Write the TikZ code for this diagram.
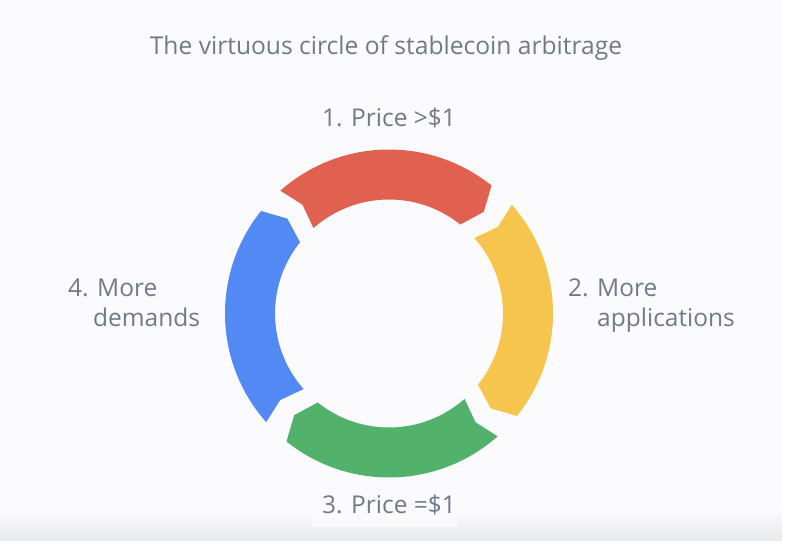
\documentclass[tikz,border=0pt]{standalone}
\usepackage{fontspec}
\setmainfont{Open Sans}
\usetikzlibrary{calc}
\definecolor{txt}{RGB}{112,122,138}
\definecolor{panel}{RGB}{251,251,253}
\definecolor{segred}{RGB}{224,97,80}
\definecolor{segyellow}{RGB}{245,197,78}
\definecolor{seggreen}{RGB}{82,178,108}
\definecolor{segblue}{RGB}{82,137,245}
\tikzset{
  lbl/.style={text=txt, inner sep=0pt, font=\fontsize{24.5}{30}\selectfont},
  ttl/.style={text=txt, inner sep=0pt, font=\fontsize{24.6}{30}\selectfont},
}
% segment: #1 colour, #2 tail angle
\newcommand{\ringseg}[2]{%
  \pgfmathsetmacro{\ta}{#2}%
  \pgfmathsetmacro{\tb}{#2-81}%
  \fill[#1] (\ta:164pt) arc[start angle=\ta, end angle=\tb+0.8, radius=164pt]
    -- (\tb-3.5:139pt) -- (\tb+0.8:114pt)
    arc[start angle=\tb+0.8, end angle=\ta, radius=114pt]
    -- (\ta-3:139pt) -- cycle;%
}
\begin{document}
\begin{tikzpicture}[x=1pt,y=1pt]
\useasboundingbox (0,0) rectangle (800,554);
\fill[white] (0,0) rectangle (800,554);
\fill[panel] (0,14) rectangle (782,554);
\shade[bottom color={rgb,255:red,232;green,233;blue,236}, top color=panel] (0,14) rectangle (782,44);
\fill[panel] (312,27) rectangle (457,76);
\coordinate (c) at (389,240.5);
\begin{scope}[shift={(c)}]
  \ringseg{segred}{131.5}
  \ringseg{segyellow}{41.5}
  \ringseg{seggreen}{-48.5}
  \ringseg{segblue}{-138.5}
\end{scope}
\node[ttl, anchor=base] (title) at (386,499) {The virtuous circle of stablecoin arbitrage};
\node[lbl, anchor=base west] (l1) at (322,427) {1. Price >\$1};
\node[lbl, anchor=base west] (l2a) at (568,257) {2. More};
\node[lbl, anchor=base west] (l2b) at (597,227) {applications};
\node[lbl, anchor=base west] (l3) at (322,41) {3. Price =\$1};
\node[lbl, anchor=base west] (l4a) at (68,257) {4. More};
\node[lbl, anchor=base west] (l4b) at (93,227) {demands};
\end{tikzpicture}
\end{document}
